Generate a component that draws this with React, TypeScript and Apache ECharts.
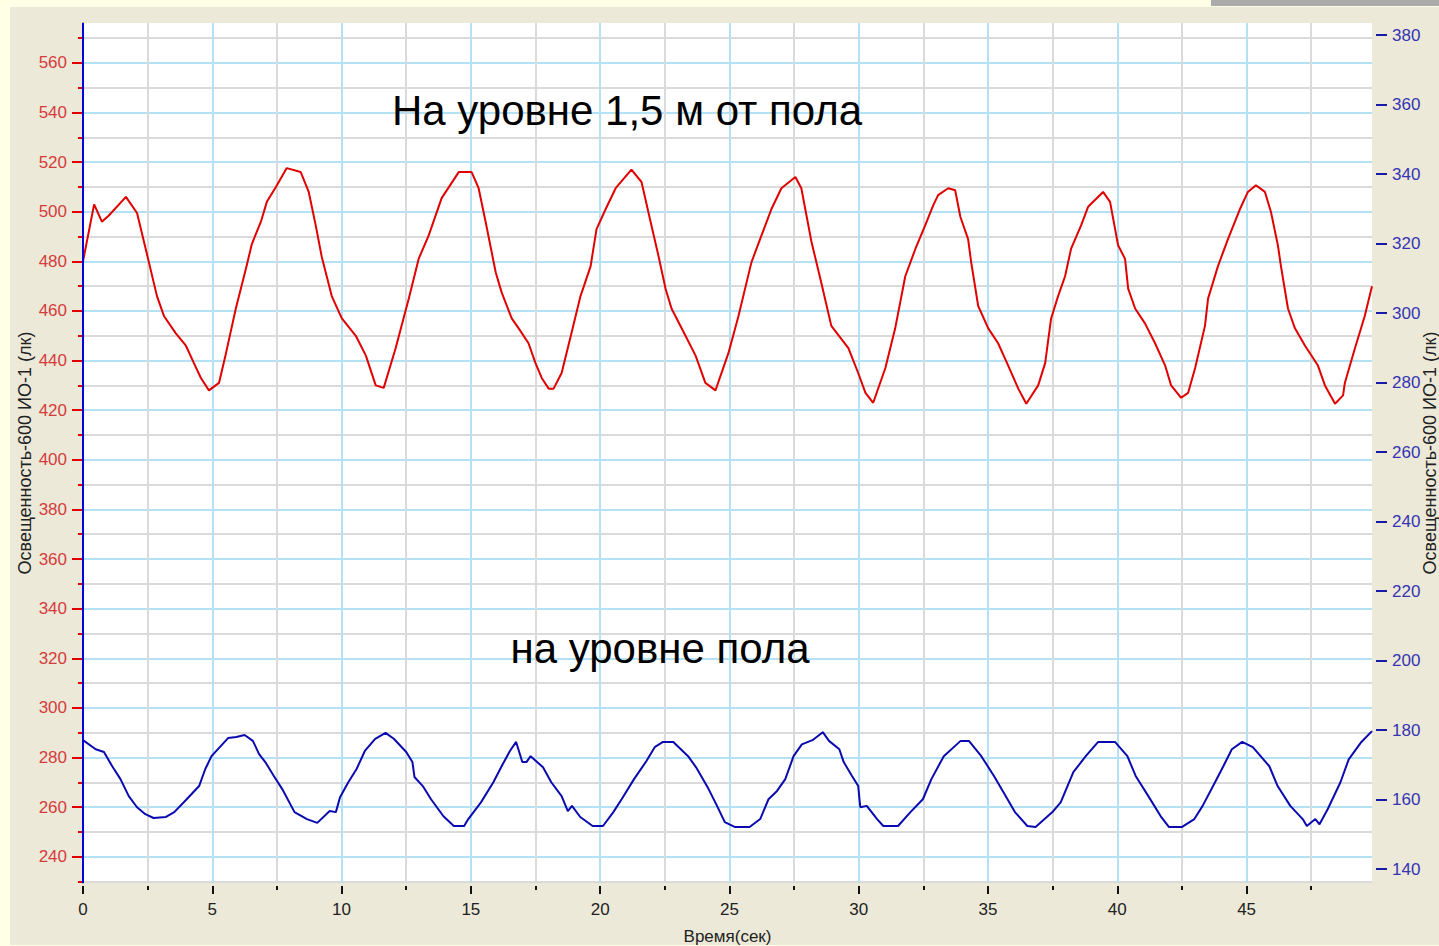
import React, { useEffect, useRef } from "react";
import * as echarts from "echarts";

// Time axis (seconds)
const timeMin = 0;
const timeMax = 49.85;
const timeMajorTicks = [0, 5, 10, 15, 20, 25, 30, 35, 40, 45];
const timeMinorTicks = [2.5, 7.5, 12.5, 17.5, 22.5, 27.5, 32.5, 37.5, 42.5, 47.5];

// Left illuminance axis (red sensor)
const leftMin = 229.4;
const leftMax = 576.1;
const leftMajorTicks = [240, 260, 280, 300, 320, 340, 360, 380, 400, 420, 440, 460, 480, 500, 520, 540, 560];
const leftMinorTicks = [230, 250, 270, 290, 310, 330, 350, 370, 390, 410, 430, 450, 470, 490, 510, 530, 550, 570];

// Right illuminance axis (blue sensor)
const rightMin = 136;
const rightMax = 383.5;
const rightTicks = [140, 160, 180, 200, 220, 240, 260, 280, 300, 320, 340, 360, 380];

// Sensor at 1.5 m above the floor
const upperTime = [
  0, 0.43, 0.73, 1.0, 1.66, 2.09, 2.55, 2.86, 3.13, 3.59, 3.98, 4.29, 4.56, 4.87, 5.26, 5.53, 5.91, 6.3, 6.53, 6.88,
  7.11, 7.46, 7.88, 8.42, 8.73, 9.0, 9.23, 9.62, 10.01, 10.55, 10.94, 11.32, 11.63, 12.09, 12.6, 12.98, 13.37, 13.87,
  14.53, 15.03, 15.3, 15.57, 15.96, 16.19, 16.58, 16.85, 17.23, 17.5, 17.74, 18.01, 18.2, 18.51, 18.89, 19.24, 19.63,
  19.86, 20.21, 20.6, 21.21, 21.6, 21.95, 22.26, 22.53, 22.76, 23.3, 23.69, 24.07, 24.46, 24.96, 25.35, 25.85, 26.24,
  26.62, 27.01, 27.55, 27.78, 28.17, 28.55, 28.94, 29.6, 29.98, 30.26, 30.56, 31.03, 31.41, 31.8, 32.19, 32.57, 32.88,
  33.07, 33.46, 33.73, 33.93, 34.23, 34.35, 34.62, 35.01, 35.39, 35.78, 36.17, 36.48, 36.94, 37.21, 37.44, 37.71,
  37.98, 38.21, 38.6, 38.87, 39.45, 39.72, 40.03, 40.3, 40.42, 40.69, 41.07, 41.46, 41.85, 42.08, 42.47, 42.74, 43.01,
  43.39, 43.51, 43.89, 44.28, 44.74, 45.05, 45.36, 45.71, 45.94, 46.21, 46.33, 46.6, 46.87, 47.26, 47.76, 48.03,
  48.42, 48.73, 48.8, 49.19, 49.57, 49.85,
];
const upperLux = [
  480, 503, 496, 498.5, 506, 499.5, 479.6, 466, 458, 451, 446, 439, 433, 428, 431, 443, 461, 477, 487, 496,
  504, 510, 517.6, 516, 508, 494.5, 482, 466, 457, 450, 442, 430, 429, 445, 465, 481, 490.5, 505.5,
  516, 516, 509.5, 496, 475.6, 467.5, 457, 453, 447, 439, 433, 428.7, 428.7, 435, 451, 466, 478,
  493, 501, 509.5, 517, 512, 496, 482, 469, 461, 450, 442, 431, 428, 443, 458, 479.6, 490.5,
  501, 509.5, 514, 509.5, 488, 471.5, 454, 445, 435, 427, 423, 437, 453, 474, 485, 494.5, 502.6,
  506.7, 509.5, 508.7, 498, 489, 479.6, 462, 453, 447, 438, 428.7, 422.6, 430, 439, 457, 466,
  474, 485, 494.5, 502, 508, 504, 486.5, 481, 469, 461, 455, 447, 438, 430, 425, 427, 437,
  454, 465, 478, 489, 501, 508, 510.7, 508, 500, 486.5, 478, 461, 453, 446, 438, 430,
  422.6, 426, 431, 445, 458, 470,
];

// Sensor at floor level
const floorTime = [
  0, 0.49, 0.81, 1.13, 1.45, 1.77, 2.09, 2.41, 2.73, 3.21, 3.53, 4.01, 4.49, 4.73, 4.97, 5.61, 5.93, 6.25, 6.57, 6.81,
  7.05, 7.38, 7.7, 8.18, 8.66, 9.06, 9.54, 9.78, 9.94, 10.26, 10.58, 10.9, 11.3, 11.7, 12.02, 12.5, 12.74, 12.82,
  13.14, 13.46, 13.94, 14.34, 14.74, 14.9, 15.39, 15.87, 16.19, 16.51, 16.75, 16.99, 17.15, 17.31, 17.79, 18.11,
  18.51, 18.75, 18.91, 19.23, 19.71, 20.11, 20.51, 20.83, 21.31, 21.79, 22.11, 22.43, 22.83, 23.4, 23.71, 24.19,
  24.52, 24.82, 25.22, 25.78, 26.19, 26.51, 26.84, 27.16, 27.48, 27.8, 28.21, 28.61, 28.85, 29.25, 29.42, 29.74,
  29.98, 30.06, 30.31, 30.71, 30.95, 31.52, 32.0, 32.48, 32.81, 33.29, 33.94, 34.26, 34.74, 35.23, 35.71, 36.04,
  36.52, 36.84, 37.49, 37.81, 38.3, 38.78, 39.26, 39.91, 40.39, 40.71, 41.2, 41.68, 42.0, 42.49, 42.98, 43.3,
  43.78, 44.1, 44.43, 44.83, 45.24, 45.88, 46.2, 46.69, 47.17, 47.33, 47.66, 47.82, 48.14, 48.63, 48.95, 49.44,
  49.85,
];
const floorLux = [
  177.1, 174.5, 173.7, 169.6, 165.9, 161, 157.8, 155.8, 154.7, 155, 156.4, 160.1, 163.9, 168.8, 172.5, 177.7, 178,
  178.6, 176.9, 173.1, 170.8, 166.8, 163.1, 156.4, 154.4, 153.3, 156.7, 156.4, 160.7, 165, 168.8, 174, 177.5,
  179.2, 177.5, 173.7, 170.8, 166.5, 163.9, 160.1, 155.2, 152.4, 152.4, 154.4, 159.2, 165, 169.6, 174, 176.6,
  170.8, 170.8, 172.5, 169.3, 165, 161, 156.7, 158.2, 155, 152.4, 152.4, 156.4, 160.1, 165.9, 171.1, 175.1,
  176.6, 176.6, 172.5, 169.3, 163.1, 158.2, 153.5, 152.1, 152.1, 154.4, 160.1, 162.5, 165.9, 172.5, 175.9,
  177.1, 179.4, 176.9, 174.5, 170.8, 166.8, 163.9, 157.8, 158.2, 154.4, 152.4, 152.4, 156.4, 160.1, 165.9,
  172.5, 176.9, 176.9, 172.5, 166.8, 160.7, 156.4, 152.4, 152.1, 156.4, 159.2, 167.9, 172.5, 176.6, 176.6,
  172.5, 166.8, 161, 155.2, 152.1, 152.1, 154.4, 158.2, 165, 169.6, 174.5, 176.6, 175.1, 169.6, 163.9, 158.2,
  154.4, 152.4, 154.4, 152.9, 157.3, 165, 171.6, 176.6, 179.7,
];

const axisTitle = "Освещенность-600 ИО-1 (лк)";
const timeTitle = "Время(сек)";
const upperCaption = "На уровне 1,5 м от пола";
const floorCaption = "на уровне пола";

const FONT = '"Liberation Sans", Arial, sans-serif';

export default function App() {
  const ref = useRef<HTMLDivElement>(null);

  useEffect(() => {
    if (!ref.current) return;
    const chart = echarts.init(ref.current, undefined, { renderer: "svg" });

    const upperData = upperTime.map((t, i) => [t, upperLux[i]]);
    const floorData = floorTime.map((t, i) => [t, floorLux[i]]);

    const tickText = { fontSize: 17, fontFamily: FONT };

    chart.setOption({
      animation: false,
      backgroundColor: "transparent",
      grid: {
        left: 83,
        right: 67,
        top: 23,
        bottom: 63,
        outerBoundsMode: "none",
        containLabel: false,
        show: true,
        backgroundColor: "#FFFFFF",
        borderWidth: 0,
      },
      xAxis: [
        {
          type: "value",
          min: timeMin,
          max: timeMax,
          position: "bottom",
          offset: 3,
          axisLine: { show: false },
          axisTick: { show: true, length: 8, customValues: timeMajorTicks, lineStyle: { color: "#111", width: 2 } },
          axisLabel: { customValues: timeMajorTicks, margin: 15, color: "#222", ...tickText },
          splitLine: { show: true, lineStyle: { color: "#B4E1F4", width: 2 } },
          name: timeTitle,
          nameLocation: "middle",
          nameGap: 42,
          nameMoveOverlap: false,
          nameTextStyle: { color: "#222", fontSize: 17, fontFamily: FONT },
        },
        {
          type: "value",
          min: timeMin,
          max: timeMax,
          position: "bottom",
          offset: 3,
          axisLine: { show: false },
          axisTick: { show: true, length: 4, customValues: timeMinorTicks, lineStyle: { color: "#111", width: 2 } },
          axisLabel: { show: false, customValues: timeMinorTicks },
          splitLine: { show: true, lineStyle: { color: "#DADADA", width: 2 } },
        },
      ],
      yAxis: [
        {
          type: "value",
          position: "left",
          min: leftMin,
          max: leftMax,
          offset: 2,
          axisLine: { show: true, lineStyle: { color: "#A8A8A8", width: 2 } },
          axisTick: { show: true, length: 11, customValues: leftMajorTicks, lineStyle: { color: "#E00000", width: 2 } },
          axisLabel: { customValues: leftMajorTicks, margin: 14, color: "#D43C3C", ...tickText },
          splitLine: { show: true, lineStyle: { color: "#B4E1F4", width: 2 } },
          name: axisTitle,
          nameLocation: "middle",
          nameRotate: 90,
          nameGap: 47,
          nameMoveOverlap: false,
          nameTextStyle: { color: "#222", fontSize: 18, fontFamily: FONT },
        },
        {
          type: "value",
          position: "left",
          min: leftMin,
          max: leftMax,
          offset: 2,
          axisLine: { show: false },
          axisTick: { show: true, length: 5, customValues: leftMinorTicks, lineStyle: { color: "#E00000", width: 2 } },
          axisLabel: { show: false, customValues: leftMinorTicks },
          splitLine: { show: true, lineStyle: { color: "#DADADA", width: 2 } },
        },
        {
          type: "value",
          position: "right",
          min: rightMin,
          max: rightMax,
          offset: 4,
          axisLine: { show: false },
          axisTick: { show: true, length: 11, customValues: rightTicks, lineStyle: { color: "#1A1AA8", width: 2 } },
          axisLabel: { customValues: rightTicks, margin: 16, color: "#3434B4", ...tickText },
          splitLine: { show: false },
          name: axisTitle,
          nameLocation: "middle",
          nameRotate: 90,
          nameGap: 45,
          nameMoveOverlap: false,
          nameTextStyle: { color: "#222", fontSize: 18, fontFamily: FONT },
        },
      ],
      series: [
        {
          name: upperCaption,
          type: "line",
          xAxisIndex: 0,
          yAxisIndex: 0,
          data: upperData,
          showSymbol: false,
          silent: true,
          lineStyle: { color: "#E00000", width: 2 },
          itemStyle: { color: "#E00000" },
        },
        {
          name: floorCaption,
          type: "line",
          xAxisIndex: 0,
          yAxisIndex: 2,
          data: floorData,
          showSymbol: false,
          silent: true,
          lineStyle: { color: "#0A0AB0", width: 2 },
          itemStyle: { color: "#0A0AB0" },
          markLine: {
            silent: true,
            symbol: ["none", "none"],
            label: { show: false },
            lineStyle: { color: "#0000E0", width: 2, type: "solid" },
            data: [{ xAxis: 0 }],
          },
        },
      ],
      graphic: [
        {
          type: "text",
          z: 100,
          x: 627,
          y: 110,
          style: {
            text: upperCaption,
            fill: "#000",
            font: `42px ${FONT}`,
            textAlign: "center",
            textVerticalAlign: "middle",
            align: "center",
            verticalAlign: "middle",
          },
        },
        {
          type: "text",
          z: 100,
          x: 660,
          y: 648,
          style: {
            text: floorCaption,
            fill: "#000",
            font: `42px ${FONT}`,
            textAlign: "center",
            textVerticalAlign: "middle",
            align: "center",
            verticalAlign: "middle",
          },
        },
      ],
    });

    return () => chart.dispose();
  }, []);

  return (
    <div
      style={{
        position: "fixed",
        left: 0,
        top: 0,
        width: 1439,
        height: 946,
        background: "#FFFFE6",
        overflow: "hidden",
      }}
    >
      <div style={{ position: "absolute", left: 10, top: 7, right: 0, bottom: 1, background: "#ECE9D8" }} />
      <div style={{ position: "absolute", left: 1211, top: 0, right: 0, height: 6, background: "#ABABAB" }} />
      <div ref={ref} style={{ position: "absolute", left: 0, top: 0, width: 1439, height: 946 }} />
    </div>
  );
}
